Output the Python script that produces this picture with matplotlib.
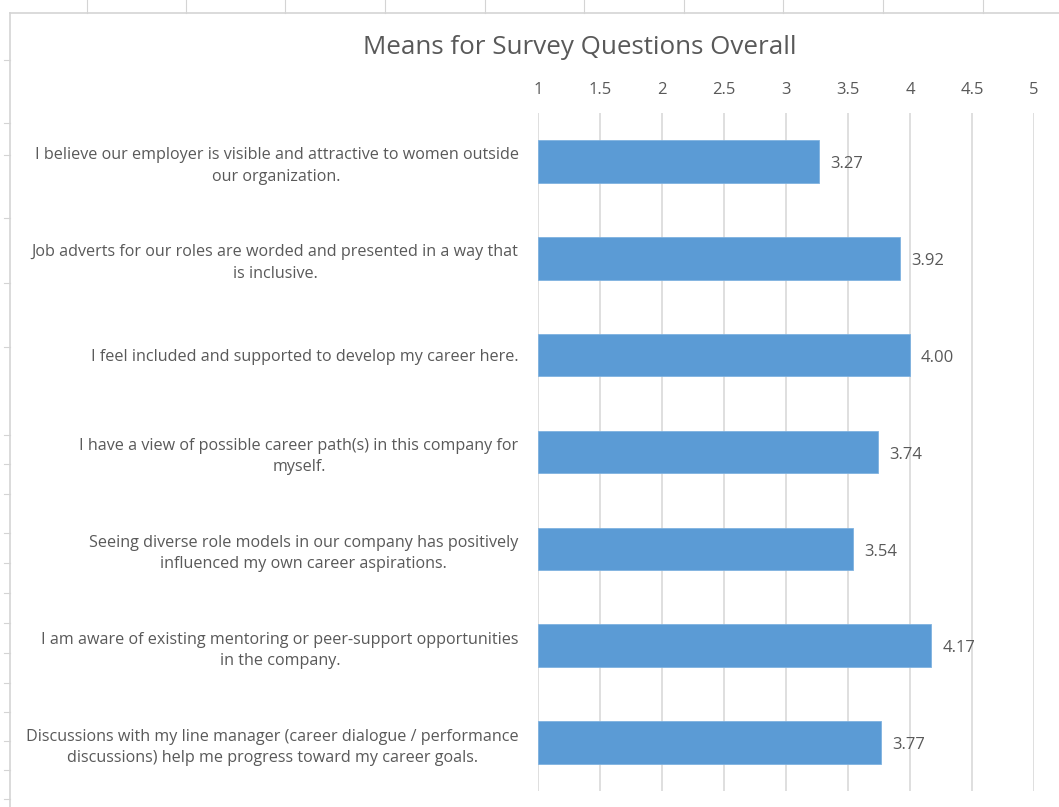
import matplotlib.pyplot as plt
from matplotlib.lines import Line2D

questions = [
    "I believe our employer is visible and attractive to women outside\nour organization.",
    "Job adverts for our roles are worded and presented in a way that\nis inclusive.",
    "I feel included and supported to develop my career here.",
    "I have a view of possible career path(s) in this company for\nmyself.",
    "Seeing diverse role models in our company has positively\ninfluenced my own career aspirations.",
    "I am aware of existing mentoring or peer-support opportunities\nin the company.",
    "Discussions with my line manager (career dialogue / performance\ndiscussions) help me progress toward my career goals.",
]
means = [3.27, 3.92, 4.00, 3.74, 3.54, 4.17, 3.77]
x_ticks = [1, 1.5, 2, 2.5, 3, 3.5, 4, 4.5, 5]
x_tick_labels = ["1", "1.5", "2", "2.5", "3", "3.5", "4", "4.5", "5"]

# spreadsheet row / column marks around the chart frame (pixel positions)
sheet_cols = [87, 186, 285, 385, 485, 584, 684, 783, 883, 983]
sheet_rows = [60, 123, 155, 218, 283, 347, 435, 464, 494, 533, 563, 593,
              623, 653, 683, 712, 741, 770, 799]

W, H = 1059, 807
text_col = "#595959"
grid_col = "#D9D9D9"
bar_col = "#5B9BD5"
label_font = ["Open Sans", "DejaVu Sans"]

fig = plt.figure(figsize=(W / 100, H / 100), dpi=100)
fig.patch.set_facecolor("white")

# chart frame and sheet gridline stubs
def px(x, y):
    return x / W, 1 - y / H

frame_col = "#D4D4D4"
fig.add_artist(Line2D([px(10, 0)[0], px(10, 0)[0]], [px(0, 13)[1], px(0, H)[1]],
                      color=frame_col, lw=1.2))
fig.add_artist(Line2D([px(10, 0)[0], 1], [px(0, 13)[1], px(0, 13)[1]],
                      color=frame_col, lw=1.2))
for c in sheet_cols:
    fig.add_artist(Line2D([c / W, c / W], [px(0, 13)[1], 1], color=frame_col, lw=0.8))
for r in sheet_rows:
    fig.add_artist(Line2D([px(4, 0)[0], px(10, 0)[0]], [1 - r / H, 1 - r / H],
                          color=frame_col, lw=0.8))

ax = fig.add_axes([538 / W, 1 - 791 / H, (1034 - 538) / W, (791 - 113) / H])
ypos = list(range(len(questions)))
ax.barh(ypos, [m - 1 for m in means], left=1, height=0.44, color=bar_col,
        edgecolor="#7FB2E0", linewidth=0.6, zorder=3)
ax.set_xlim(1, 5)
ax.set_ylim(len(questions) - 0.5, -0.5)

for y, m in zip(ypos, means):
    ax.annotate(f"{m:.2f}", (m, y), xytext=(8, -2), textcoords="offset points",
                va="center", ha="left", fontsize=12, color=text_col,
                family=label_font)

ax.xaxis.tick_top()
ax.set_xticks(x_ticks)
ax.set_xticklabels(x_tick_labels, fontsize=12, color=text_col, family=label_font)
ax.tick_params(axis="x", length=0, pad=11)
ax.set_yticks(ypos)
ax.set_yticklabels(questions, fontsize=11.6, color=text_col, family=label_font,
                   linespacing=1.45)
for t in ax.get_yticklabels():
    t.set_multialignment("center")
ax.tick_params(axis="y", length=0, pad=14)

ax.grid(axis="x", color=grid_col, lw=1.2, zorder=0)
ax.set_axisbelow(True)
for s in ax.spines.values():
    s.set_visible(False)

fig.text(580 / W, 1 - 47 / H, "Means for Survey Questions Overall",
         ha="center", va="center", fontsize=18.7, color=text_col,
         family=label_font)

fig.savefig("out.png", dpi=100, facecolor="white")
